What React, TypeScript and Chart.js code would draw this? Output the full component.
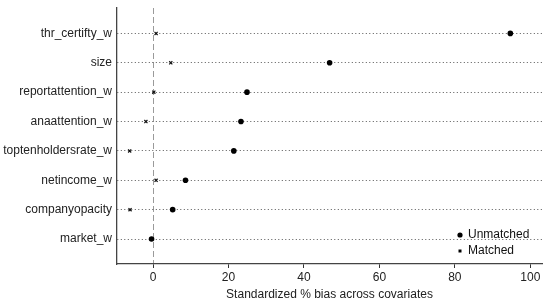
import React, { useEffect, useRef } from "react";
import { Chart, registerables } from "chart.js";

Chart.register(...registerables);

const covariates = [
  "thr_certifty_w",
  "size",
  "reportattention_w",
  "anaattention_w",
  "toptenholdersrate_w",
  "netincome_w",
  "companyopacity",
  "market_w",
];
const unmatched = [94.7, 46.8, 24.9, 23.3, 21.4, 8.6, 5.2, -0.4];
const matched = [0.8, 4.7, 0.2, -1.9, -6.2, 0.8, -6.1, -0.4];
const xTicks = [0, 20, 40, 60, 80, 100];
const xTitle = "Standardized % bias across covariates";

const FONT = "'Liberation Sans', Arial, Helvetica, sans-serif";

const legendPlugin = {
  id: "insideLegend",
  afterDraw(chart: any) {
    const ctx = chart.ctx;
    const area = chart.chartArea;
    const items = chart.data.datasets;
    ctx.save();
    ctx.font = `12px ${FONT}`;
    ctx.textBaseline = "middle";
    const xMark = area.right - 82;
    items.forEach((ds: any, i: number) => {
      const y = area.bottom - 29 + i * 16;
      ctx.fillStyle = "#000";
      if (ds.pointStyle === "circle") {
        ctx.beginPath();
        ctx.arc(xMark, y, 2.6, 0, Math.PI * 2);
        ctx.fill();
      } else {
        ctx.fillRect(xMark - 1.5, y - 1.5, 3, 3);
      }
      ctx.fillStyle = "#111";
      ctx.fillText(ds.label, xMark + 8, y);
    });
    ctx.restore();
  },
};

export default function App() {
  const ref = useRef<HTMLCanvasElement>(null);
  useEffect(() => {
    if (!ref.current) return;
    const chart = new Chart(ref.current, {
      type: "scatter",
      data: {
        datasets: [
          {
            label: "Unmatched",
            data: unmatched.map((v, i) => ({ x: v, y: i + 1 })),
            pointStyle: "circle",
            pointRadius: 2.8,
            backgroundColor: "#000",
            borderColor: "#000",
            borderWidth: 0,
          },
          {
            label: "Matched",
            data: matched.map((v, i) => ({ x: v, y: i + 1 })),
            pointStyle: "crossRot",
            pointRadius: 2.2,
            backgroundColor: "#000",
            borderColor: "#111",
            borderWidth: 1.2,
          },
        ],
      },
      options: {
        responsive: false,
        animation: false,
        layout: { padding: { top: 8, right: 8, left: 0, bottom: 0 } },
        plugins: { legend: { display: false }, tooltip: { enabled: false } },
        scales: {
          x: {
            type: "linear",
            min: -9.56,
            max: 103.1,
            afterBuildTicks: (scale: any) => {
              scale.ticks = xTicks.map((v) => ({ value: v }));
            },
            afterFit: (scale: any) => {
              scale.height = 38;
              scale.paddingLeft = 0;
              scale.paddingRight = 0;
            },
            ticks: {
              color: "#222",
              font: { family: FONT, size: 12 },
              padding: 2,
              maxRotation: 0,
            },
            grid: {
              color: (c: any) => (c.tick && c.tick.value === 0 ? "#9a9a9a" : "rgba(0,0,0,0)"),
              lineWidth: 1,
              drawTicks: true,
              tickLength: 4,
              tickColor: "#333",
            },
            border: { display: true, color: "#444", width: 1.3, dash: [6, 3] },
            title: {
              display: true,
              text: xTitle,
              color: "#222",
              font: { family: FONT, size: 12 },
              padding: { top: 0, bottom: 0 },
            },
          },
          y: {
            type: "linear",
            reverse: true,
            min: 0.135,
            max: 8.85,
            afterBuildTicks: (scale: any) => {
              scale.ticks = covariates.map((_, i) => ({ value: i + 1 }));
            },
            afterFit: (scale: any) => {
              scale.width = 117;
              scale.paddingTop = 0;
              scale.paddingBottom = 0;
            },
            ticks: {
              color: "#222",
              font: { family: FONT, size: 12 },
              padding: 5,
              callback: (v: any) => covariates[Number(v) - 1] ?? "",
            },
            grid: {
              color: "#555",
              lineWidth: 1,
              drawTicks: false,
            },
            border: { display: true, color: "#444", width: 1.3, dash: [1, 2.5] },
          },
        },
      },
      plugins: [legendPlugin],
    });
    return () => chart.destroy();
  }, []);
  return (
    <div style={{ position: "fixed", left: 0, top: 0, width: 550, height: 302, background: "#fff" }}>
      <canvas ref={ref} width={550} height={302} />
    </div>
  );
}
